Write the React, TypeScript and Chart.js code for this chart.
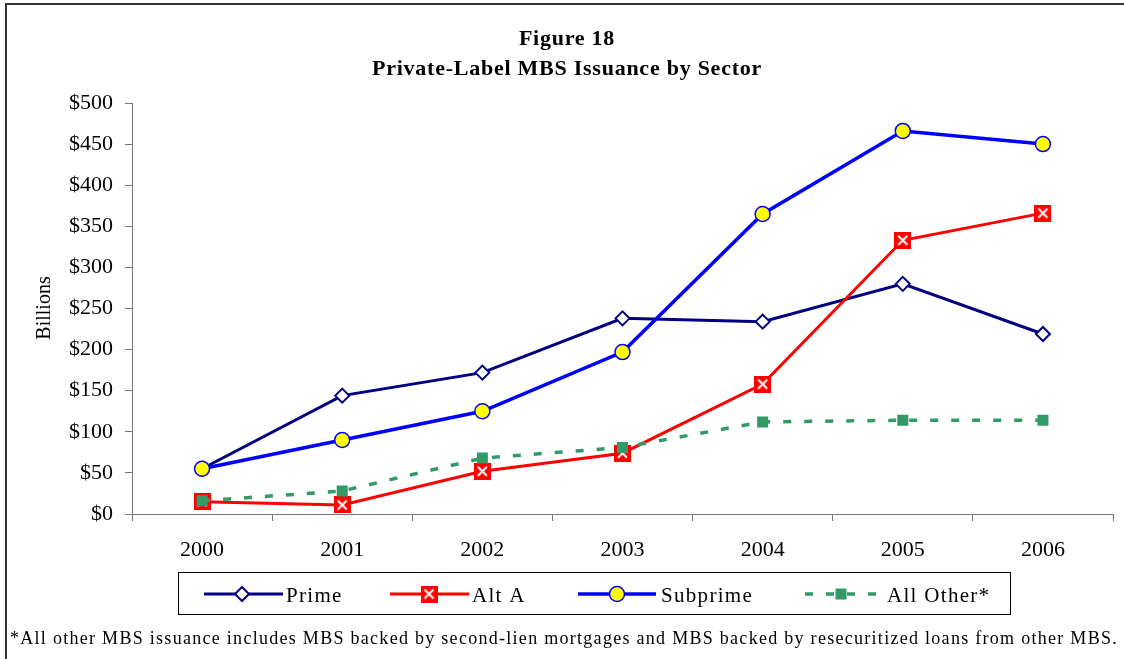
import React, { useEffect, useRef } from 'react';
import { Chart, registerables } from 'chart.js';

Chart.register(...registerables);

// ---- data ----
const years = ['2000', '2001', '2002', '2003', '2004', '2005', '2006'];
const prime = [55, 144, 172, 238, 234, 280, 219];
const altA = [15, 11, 52, 74, 158, 333, 366];
const subprime = [55, 90, 125, 197, 365, 466, 450];
const allOther = [16, 28, 68, 81, 112, 114, 114];
const seriesNames = ['Prime', 'Alt A', 'Subprime', 'All Other*'];
const yMin = 0;
const yMax = 500;
const yStep = 50;

const titleLines = ['Figure 18', 'Private-Label MBS Issuance by Sector'];
const yAxisTitle = 'Billions';
const footnote =
  '*All other MBS issuance includes MBS backed by second-lien mortgages and MBS backed by resecuritized loans from other MBS.';

const NAVY = '#000080';
const RED = '#FF0000';
const BLUE = '#0000FF';
const YELLOW = '#FFFF00';
const GREEN = '#339966';
const SERIF = '"Liberation Serif", "Times New Roman", serif';

function makeAltAMarker(size: number): HTMLCanvasElement {
  const c = document.createElement('canvas');
  c.width = size;
  c.height = size;
  const g = c.getContext('2d')!;
  g.fillStyle = RED;
  g.fillRect(0, 0, size, size);
  g.strokeStyle = '#FFFFFF';
  g.lineWidth = 2;
  const m = 4;
  g.beginPath();
  g.moveTo(m, m);
  g.lineTo(size - m, size - m);
  g.moveTo(size - m, m);
  g.lineTo(m, size - m);
  g.stroke();
  return c;
}

export default function App() {
  const ref = useRef<HTMLCanvasElement | null>(null);

  useEffect(() => {
    const canvas = ref.current;
    if (!canvas) return;
    const altMarker = makeAltAMarker(17);

    const decor = {
      id: 'decor',
      afterDraw(chart: any) {
        const ctx: CanvasRenderingContext2D = chart.ctx;
        ctx.save();
        // outer frame
        ctx.strokeStyle = '#333333';
        ctx.lineWidth = 2;
        ctx.beginPath();
        ctx.moveTo(6, 720);
        ctx.lineTo(6, 4);
        ctx.lineTo(1140, 4);
        ctx.stroke();

        // title
        ctx.fillStyle = '#000';
        ctx.textAlign = 'center';
        ctx.textBaseline = 'alphabetic';
        ctx.font = `bold 22px ${SERIF}`;
        (ctx as any).letterSpacing = '0.75px';
        ctx.fillText(titleLines[0], 567, 45);
        ctx.fillText(titleLines[1], 567, 75);
        (ctx as any).letterSpacing = '0px';

        // y-axis title
        ctx.save();
        ctx.translate(50, 308);
        ctx.rotate(-Math.PI / 2);
        ctx.font = `20px ${SERIF}`;
        ctx.textAlign = 'center';
        ctx.fillText(yAxisTitle, 0, 0);
        ctx.restore();

        // legend box
        ctx.strokeStyle = '#000';
        ctx.lineWidth = 1;
        ctx.strokeRect(178.5, 572.5, 832, 42);
        const cy = 594;
        const items = [
          { x0: 204, x1: 283, mx: 242, tx: 286 },
          { x0: 390, x1: 469, mx: 429, tx: 472 },
          { x0: 578, x1: 656, mx: 617, tx: 661 },
          { x0: 805, x1: 880, mx: 841, tx: 887 },
        ];
        const ds = chart.data.datasets;
        items.forEach((it, i) => {
          const d = ds[i];
          ctx.save();
          ctx.strokeStyle = d.borderColor;
          ctx.lineWidth = d.borderWidth;
          ctx.setLineDash(d.borderDash || []);
          ctx.beginPath();
          ctx.moveTo(it.x0, cy);
          ctx.lineTo(it.x1, cy);
          ctx.stroke();
          ctx.setLineDash([]);
          ctx.restore();
          // marker
          ctx.save();
          if (i === 0) {
            const r = 7;
            ctx.beginPath();
            ctx.moveTo(it.mx - r, cy);
            ctx.lineTo(it.mx, cy - r);
            ctx.lineTo(it.mx + r, cy);
            ctx.lineTo(it.mx, cy + r);
            ctx.closePath();
            ctx.fillStyle = '#fff';
            ctx.fill();
            ctx.strokeStyle = NAVY;
            ctx.lineWidth = 2;
            ctx.stroke();
          } else if (i === 1) {
            ctx.drawImage(altMarker, it.mx - 8.5, cy - 8.5);
          } else if (i === 2) {
            ctx.beginPath();
            ctx.arc(it.mx, cy, 7.5, 0, Math.PI * 2);
            ctx.fillStyle = YELLOW;
            ctx.fill();
            ctx.strokeStyle = BLUE;
            ctx.lineWidth = 1.5;
            ctx.stroke();
          } else {
            ctx.fillStyle = GREEN;
            ctx.fillRect(it.mx - 5.5, cy - 5.5, 11, 11);
          }
          ctx.restore();
          ctx.fillStyle = '#000';
          ctx.textAlign = 'left';
          ctx.textBaseline = 'alphabetic';
          ctx.font = `21px ${SERIF}`;
          (ctx as any).letterSpacing = '1.3px';
          ctx.fillText(seriesNames[i], it.tx, 602);
          (ctx as any).letterSpacing = '0px';
        });

        // footnote
        ctx.font = `18px ${SERIF}`;
        ctx.textAlign = 'left';
        const w = ctx.measureText(footnote).width;
        const target = 1108;
        const ls = (target - w) / footnote.length;
        (ctx as any).letterSpacing = `${ls}px`;
        ctx.fillText(footnote, 10, 644);
        (ctx as any).letterSpacing = '0px';
        ctx.restore();
      },
    };

    const chart = new Chart(canvas, {
      type: 'line',
      data: {
        labels: years,
        datasets: [
          {
            label: seriesNames[0],
            data: prime,
            borderColor: NAVY,
            borderWidth: 3,
            pointStyle: 'rectRot',
            pointRadius: 7,
            pointBackgroundColor: '#FFFFFF',
            pointBorderColor: NAVY,
            pointBorderWidth: 2,
            tension: 0,
            order: 4,
          },
          {
            label: seriesNames[1],
            data: altA,
            borderColor: RED,
            borderWidth: 3,
            pointStyle: altMarker as any,
            pointRadius: 8,
            tension: 0,
            order: 3,
          },
          {
            label: seriesNames[2],
            data: subprime,
            borderColor: BLUE,
            borderWidth: 3.5,
            pointStyle: 'circle',
            pointRadius: 7.5,
            pointBackgroundColor: YELLOW,
            pointBorderColor: BLUE,
            pointBorderWidth: 1.5,
            tension: 0,
            order: 2,
          },
          {
            label: seriesNames[3],
            data: allOther,
            borderColor: GREEN,
            borderWidth: 3.5,
            borderDash: [8, 13],
            pointStyle: 'rect',
            pointRadius: 7.8,
            pointBackgroundColor: GREEN,
            pointBorderWidth: 0,
            tension: 0,
            order: 1,
          },
        ],
      },
      options: {
        responsive: false,
        animation: false,
        devicePixelRatio: 1,
        layout: { padding: { top: 103, right: 11, left: 0, bottom: 0 } },
        plugins: {
          legend: { display: false },
          title: { display: false },
          tooltip: { enabled: false },
        },
        scales: {
          x: {
            offset: true,
            grid: {
              offset: true,
              drawOnChartArea: false,
              tickLength: 7,
              color: '#777777',
            },
            border: { display: true, color: '#777777', width: 1 },
            ticks: {
              color: '#000',
              font: { family: SERIF, size: 22 },
              padding: 16,
              maxRotation: 0,
            },
            afterFit: (s: any) => {
              s.height = 145;
            },
          },
          y: {
            min: yMin,
            max: yMax,
            ticks: {
              stepSize: yStep,
              color: '#000',
              font: { family: SERIF, size: 22 },
              padding: 12,
              callback: (v: any) => '$' + v,
            },
            grid: {
              drawOnChartArea: false,
              tickLength: 7,
              color: '#777777',
            },
            border: { display: true, color: '#777777', width: 1 },
            afterFit: (s: any) => {
              s.width = 132;
            },
          },
        },
      },
      plugins: [decor],
    });

    return () => chart.destroy();
  }, []);

  return (
    <div style={{ position: 'fixed', left: 0, top: 0, width: 1124, height: 659, background: '#fff' }}>
      <canvas ref={ref} width={1124} height={659} style={{ display: 'block', width: 1124, height: 659 }} />
    </div>
  );
}
